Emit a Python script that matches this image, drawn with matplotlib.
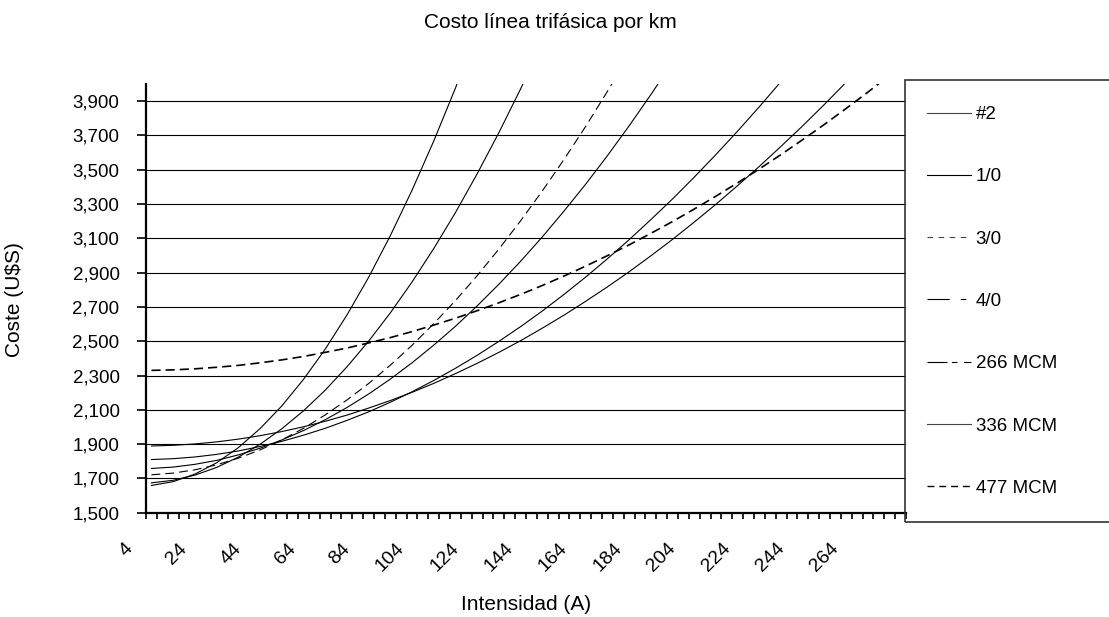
import matplotlib
matplotlib.use('Agg')
import matplotlib.pyplot as plt
from matplotlib.lines import Line2D
from matplotlib.patches import Rectangle
from matplotlib.transforms import ScaledTranslation

plt.rcParams['font.family'] = ['Liberation Sans', 'DejaVu Sans']

# category axis: 4 A .. 280 A in steps of 4, labelled every 5th
categories = list(range(4, 281, 4))
label_step = 5

# values every 8 A (until the curve leaves the plot)
current = list(range(4, 277, 8))
cost_2 = [1659, 1681, 1725, 1791, 1879, 1990, 2122, 2277, 2453, 2652,
          2872, 3115, 3380, 3667, 3976, 4307]
cost_1_0 = [1674, 1689, 1719, 1764, 1824, 1899, 1989, 2094, 2214, 2350,
            2500, 2665, 2845, 3040, 3250, 3476, 3716, 3971, 4241]
cost_3_0 = [1721, 1731, 1750, 1779, 1818, 1866, 1924, 1992, 2070, 2157,
            2253, 2360, 2476, 2602, 2737, 2882, 3037, 3202, 3376, 3560,
            3753, 3957, 4169]
cost_4_0 = [1758, 1766, 1782, 1805, 1837, 1876, 1924, 1979, 2042, 2113,
            2192, 2279, 2374, 2477, 2587, 2706, 2832, 2966, 3108, 3259,
            3416, 3582, 3756, 3938, 4127]
cost_266 = [1810, 1815, 1825, 1840, 1860, 1886, 1916, 1952, 1992, 2038,
            2088, 2144, 2205, 2271, 2342, 2418, 2499, 2585, 2676, 2773,
            2874, 2981, 3092, 3209, 3330, 3457, 3589, 3726, 3868, 4015]
cost_336 = [1889, 1893, 1901, 1913, 1929, 1949, 1973, 2001, 2033, 2069,
            2110, 2154, 2202, 2254, 2311, 2371, 2435, 2503, 2576, 2652,
            2733, 2817, 2905, 2998, 3094, 3195, 3299, 3408, 3520, 3637,
            3757, 3882, 4011]
cost_477 = [2330, 2333, 2339, 2348, 2359, 2374, 2391, 2411, 2435, 2460,
            2490, 2521, 2556, 2594, 2634, 2678, 2724, 2773, 2825, 2880,
            2938, 2999, 3062, 3129, 3198, 3271, 3346, 3424, 3505, 3589,
            3676, 3765, 3858, 3953, 4052]

names = ['#2', '1/0', '3/0', '4/0', '266 MCM', '336 MCM', '477 MCM']
series = [cost_2, cost_1_0, cost_3_0, cost_4_0, cost_266, cost_336, cost_477]

y_ticks = list(range(1500, 4000, 200))


def main():
    fig = plt.figure(figsize=(11.09, 6.17), dpi=100)
    ax = fig.add_axes([146 / 1109, 1 - 512.7 / 617,
                       760 / 1109, (512.7 - 84) / 617])

    plot_styles = [
        dict(lw=0.8, ls='-'),
        dict(lw=0.8, ls='-'),
        dict(lw=0.8, ls=(0, (8, 4.5))),
        dict(lw=0.8, ls='-'),
        dict(lw=0.8, ls='-'),
        dict(lw=0.8, ls='-'),
        dict(lw=1.2, ls=(0, (5.5, 3))),
    ]
    legend_styles = [
        dict(lw=0.8, ls='-', color='#444444'),
        dict(lw=0.8, ls='-', color='black'),
        dict(lw=0.8, ls=(0, (5, 5)), color='#444444'),
        dict(lw=0.8, ls=(0, (20, 10, 5, 100)), color='black'),
        dict(lw=0.8, ls=(0, (18, 4, 5, 6, 20, 100)), color='black'),
        dict(lw=0.8, ls='-', color='#444444'),
        dict(lw=1.0, ls=(0, (5, 3.5)), color='black'),
    ]

    for vals, st in zip(series, plot_styles):
        xs = [categories.index(i) for i in current[:len(vals)]]
        ax.plot(xs, vals, color='black', **st)

    ax.set_xlim(-0.5, len(categories) - 0.5)
    ax.set_ylim(1500, 4000)

    ax.set_yticks(y_ticks)
    ax.set_yticklabels([f'{v:,}' for v in y_ticks])
    ax.yaxis.grid(True, color='black', lw=0.8)
    ax.set_axisbelow(True)

    major = list(range(0, len(categories) - 4, label_step))
    ax.set_xticks(major)
    ax.set_xticklabels([str(categories[i]) for i in major])
    ax.set_xticks([i - 0.5 for i in range(len(categories) + 1)], minor=True)
    ax.tick_params(axis='x', which='major', length=0, pad=24,
                   labelsize=14)
    ax.tick_params(axis='x', which='minor', length=4.5, width=1.2,
                   direction='out')
    ax.tick_params(axis='y', length=6.5, width=1.2, pad=12.5,
                   labelsize=13.5)

    for spine in ['top', 'right']:
        ax.spines[spine].set_visible(False)
    for spine in ['left', 'bottom']:
        ax.spines[spine].set_linewidth(1.6)

    shift = ScaledTranslation(-21 / 100, 0, fig.dpi_scale_trans)
    for lbl in ax.get_xticklabels():
        lbl.set_rotation(45)
        lbl.set_ha('right')
        lbl.set_va('center')
        lbl.set_rotation_mode('anchor')
        lbl.set_transform(lbl.get_transform() + shift)

    handles = [Line2D([], [], **st) for st in legend_styles]
    ax.legend(handles, names, loc='upper left',
              bbox_to_anchor=(927 / 1109, 1 - 106 / 617),
              bbox_transform=fig.transFigure, frameon=False,
              borderpad=0, borderaxespad=0, handlelength=2.35,
              handletextpad=0.25, labelspacing=2.41, fontsize=13.5)
    fig.add_artist(Rectangle((905 / 1109, 1 - 522 / 617), 0.3,
                             (522 - 80) / 617, transform=fig.transFigure,
                             fill=False, edgecolor='#333333', lw=1.2))

    fig.text(550 / 1109, 1 - 22 / 617, 'Costo línea trifásica por km',
             ha='center', va='center', fontsize=15)
    fig.text(15 / 1109, 1 - 300 / 617, 'Coste (U$S)', rotation=90,
             ha='center', va='center', fontsize=15)
    fig.text(526 / 1109, 1 - 605 / 617, 'Intensidad (A)',
             ha='center', va='center', fontsize=15)

    fig.savefig('out.png', dpi=100)


if __name__ == "__main__":
    main()
